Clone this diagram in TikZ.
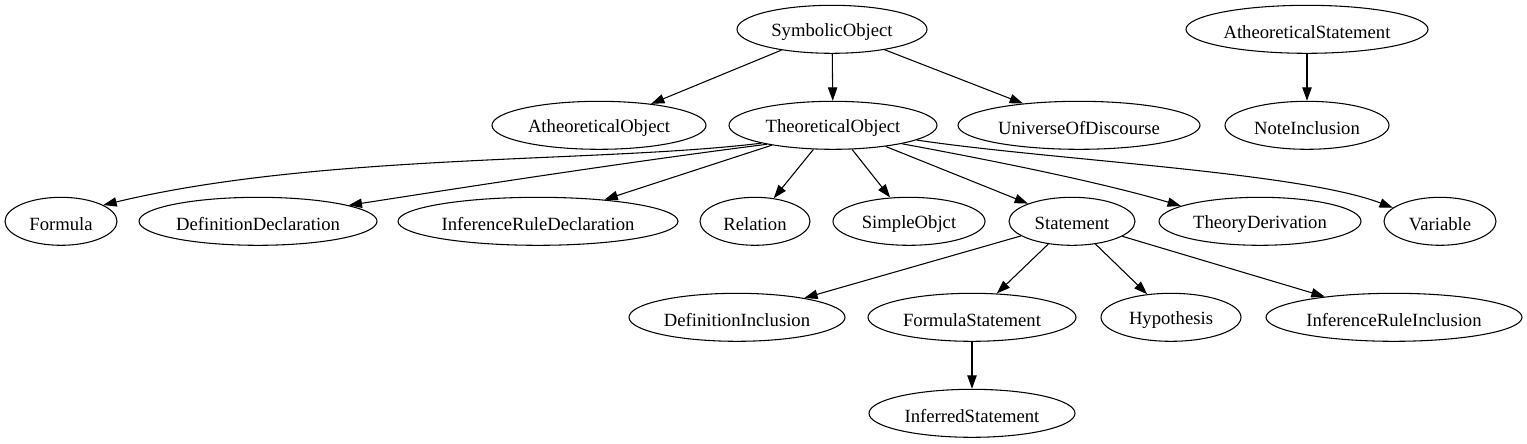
\documentclass[tikz,border=0pt]{standalone}
\usepackage{fontspec}
\setmainfont{Liberation Serif}
\usetikzlibrary{shapes.geometric,arrows.meta}
\tikzset{
  gv/.style={draw, ellipse, inner sep=0pt, minimum height=36pt, line width=0.8pt, font=\fontsize{14}{16}\selectfont},
  gvedge/.style={line width=0.8pt, -{Triangle[length=10pt,width=7pt]}}
}
\newcommand\gvnode[5]{\node[gv, minimum width=#4*1.5pt] (#1) at (#2,#3) {\raisebox{-1.8pt}[\height][\depth]{#5}};}
\begin{document}
\begin{tikzpicture}[x=0.75pt,y=-0.75pt]
\useasboundingbox (0,0) rectangle (1527,443);
% row 1
\gvnode{so}{832}{29.3}{95}{SymbolicObject}
\gvnode{as}{1307}{29.3}{121}{AtheoreticalStatement}
% row 2
\gvnode{ao}{599}{125.3}{107}{AtheoreticalObject}
\gvnode{to}{833}{125.3}{104}{TheoreticalObject}
\gvnode{uod}{1079}{125.3}{121}{UniverseOfDiscourse}
\gvnode{ni}{1307}{125.3}{82}{NoteInclusion}
% row 3
\gvnode{formula}{61}{221.3}{56}{Formula}
\gvnode{dd}{258}{221.3}{119}{DefinitionDeclaration}
\gvnode{ird}{538}{221.3}{140}{InferenceRuleDeclaration}
\gvnode{rel}{755}{221.3}{55}{Relation}
\gvnode{simple}{909}{221.3}{76}{SimpleObjct}
\gvnode{stmt}{1072}{221.3}{63}{Statement}
\gvnode{td}{1260}{221.3}{101}{TheoryDerivation}
\gvnode{var}{1440}{221.3}{56}{Variable}
% row 4
\gvnode{di}{737}{317.3}{108}{DefinitionInclusion}
\gvnode{fs}{972}{317.3}{104}{FormulaStatement}
\gvnode{hyp}{1171}{317.3}{70}{Hypothesis}
\gvnode{iri}{1394}{317.3}{128}{InferenceRuleInclusion}
% row 5
\gvnode{is}{972}{413.3}{103}{InferredStatement}
% edges
\draw[gvedge] (so) -- (ao);
\draw[gvedge] (so) -- (to);
\draw[gvedge] (so) -- (uod);
\draw[gvedge] (as) -- (ni);
\draw[gvedge] (to.194) .. controls (600,163) and (320,153) .. (formula.21);
\draw[gvedge] (to.196) .. controls (620,163) and (460,188) .. (dd.10);
\draw[gvedge] (to) -- (ird);
\draw[gvedge] (to) -- (rel);
\draw[gvedge] (to) -- (simple);
\draw[gvedge] (to) -- (stmt);
\draw[gvedge] (to.-15) .. controls (990,160) and (1100,182) .. (td.169);
\draw[gvedge] (to.-10) .. controls (1050,160) and (1300,172) .. (var.164);
\draw[gvedge] (stmt) -- (di);
\draw[gvedge] (stmt) -- (fs);
\draw[gvedge] (stmt) -- (hyp);
\draw[gvedge] (stmt) -- (iri);
\draw[gvedge] (fs) -- (is);
\end{tikzpicture}
\end{document}
